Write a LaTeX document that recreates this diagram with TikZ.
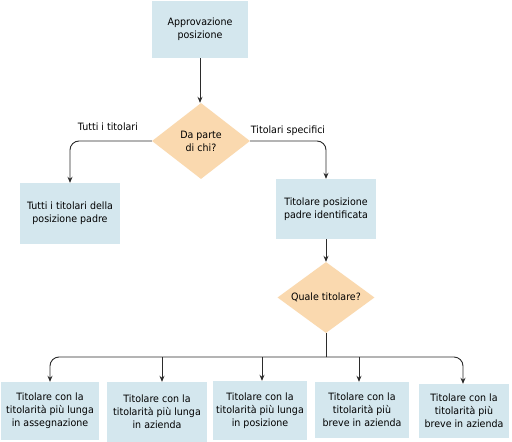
\documentclass[tikz,border=0pt]{standalone}
\usepackage{fontspec}
\setmainfont{DejaVu Sans}[FakeStretch=0.94]
\usetikzlibrary{shapes.geometric,arrows.meta}
\definecolor{boxfill}{HTML}{D4E7EE}
\definecolor{diafill}{HTML}{FAD9AF}
\definecolor{linec}{HTML}{2B2B2B}
\begin{document}
\begin{tikzpicture}[x=1pt,y=-1pt,
  every node/.style={font=\fontsize{10.1}{13}\selectfont, text=black},
  boxnode/.style={rectangle, fill=boxfill, inner sep=0pt, align=center},
  dianode/.style={diamond, fill=diafill, inner sep=0pt, align=center},
  conn/.style={draw=linec, line width=0.9pt},
  arr/.style={conn, -{Stealth[length=6pt,width=5pt]}},
  lbl/.style={inner sep=0pt}
]
\useasboundingbox[fill=white] (0,0) rectangle (512,442);

\node[boxnode, minimum width=96pt, minimum height=57pt] (top) at (200,29.5) {Approvazione\\posizione};
\node[dianode, minimum width=98pt, minimum height=76pt, aspect=1.29] (d1) at (201,141) {Da parte\\di chi?};
\node[boxnode, minimum width=100pt, minimum height=61pt] (lbox) at (70,213.5) {Tutti i titolari della\\posizione padre};
\node[boxnode, minimum width=100pt, minimum height=60pt] (rbox) at (326,209) {Titolare posizione\\padre identificata};
\node[dianode, minimum width=97pt, minimum height=71pt, aspect=1.37] (d2) at (326,297.5) {Quale titolare?};

\node[boxnode, minimum width=98pt, minimum height=58pt] (b1) at (50,411) {Titolare con la\\titolarità più lunga\\in assegnazione};
\node[boxnode, minimum width=100pt, minimum height=60pt] (b2) at (157,412) {Titolare con la\\titolarità più lunga\\in azienda};
\node[boxnode, minimum width=94pt, minimum height=59pt] (b3) at (260,410.5) {Titolare con la\\titolarità più lunga\\in posizione};
\node[boxnode, minimum width=94pt, minimum height=56pt] (b4) at (362,410) {Titolare con la\\titolarità più\\breve in azienda};
\node[boxnode, minimum width=90pt, minimum height=54pt] (b5) at (464,411) {Titolare con la\\titolarità più\\breve in azienda};

\node[lbl] (l1) at (108,127) {Tutti i titolari};
\node[lbl] (l2) at (288,131) {Titolari specifici};

\coordinate (bj) at (326,357);
\coordinate (a1) at (50,357);
\coordinate (a2) at (162,357);
\coordinate (a3) at (262,357);
\coordinate (a4) at (359,357);
\coordinate (a5) at (463,357);

\draw[arr] (top.south) -- (top.south |- d1.north);
\draw[arr, rounded corners=9pt] (d1.west) -| (lbox.north);
\draw[arr, rounded corners=9pt] (d1.east) -| (rbox.north);
\draw[arr] (rbox.south) -- (d2.north);
\draw[conn] (d2.south) -- (bj);
\draw[arr, rounded corners=9pt] (bj) -- (a1) -- (a1 |- b1.north);
\draw[arr, rounded corners=9pt] (bj) -- (a5) -- (a5 |- b5.north);
\draw[arr] (a2) -- (a2 |- b2.north);
\draw[arr] (a3) -- (a3 |- b3.north);
\draw[arr] (a4) -- (a4 |- b4.north);
\end{tikzpicture}
\end{document}
